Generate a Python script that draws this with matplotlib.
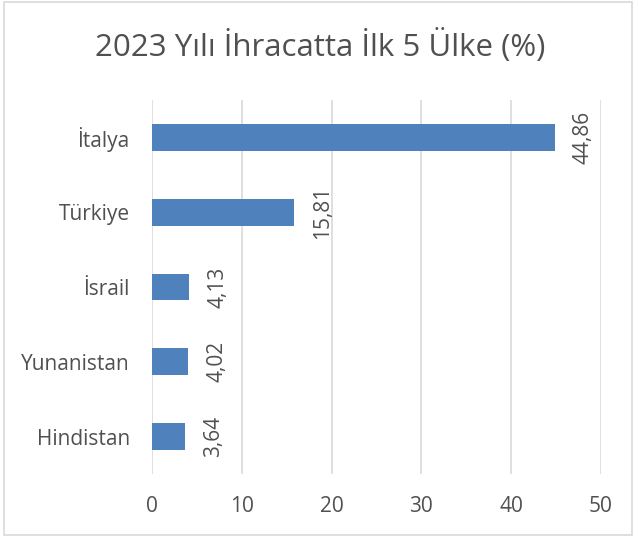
import matplotlib.pyplot as plt
from matplotlib.patches import Rectangle

countries = ['İtalya', 'Türkiye', 'İsrail', 'Yunanistan', 'Hindistan']
shares = [44.86, 15.81, 4.13, 4.02, 3.64]
x_ticks = [0, 10, 20, 30, 40, 50]

text_color = '#505050'
plt.rcParams['font.family'] = ['Open Sans', 'DejaVu Sans']

fig = plt.figure(figsize=(6.38, 5.37), dpi=100)
ax = fig.add_axes([152 / 638, 1 - 474 / 537, 449 / 638, 374 / 537])

# top category first
pos = list(range(len(countries)))[::-1]
ax.barh(pos, shares, height=0.36, color='#4F81BD', zorder=3)

for p, v in zip(pos, shares):
    ax.annotate(f'{v:.2f}'.replace('.', ','), xy=(v, p), xytext=(13, 0),
                textcoords='offset points', rotation=90, ha='left',
                va='center', fontsize=15, color=text_color)

ax.set_xlim(0, 50)
ax.set_ylim(-0.5, len(countries) - 0.5)
ax.set_xticks(x_ticks)
ax.set_xticklabels([str(t) for t in x_ticks])
ax.set_yticks(pos)
ax.set_yticklabels(countries)
ax.tick_params(axis='both', length=0, labelsize=15, labelcolor=text_color)
ax.tick_params(axis='x', pad=16)
ax.tick_params(axis='y', pad=16)
ax.grid(axis='x', color='#D9D9D9', linewidth=1.2, zorder=0)
for s in ax.spines.values():
    s.set_visible(False)

fig.text(320 / 638, 1 - 46 / 537, '2023 Yılı İhracatta İlk 5 Ülke (%)',
         ha='center', va='center', fontsize=22.5, color=text_color)

fig.patches.append(Rectangle((4 / 638, 2 / 537), 628 / 638, 533 / 537,
                             transform=fig.transFigure, fill=False,
                             edgecolor='#D9D9D9', linewidth=1.2))

fig.savefig('out.png', dpi=100)
